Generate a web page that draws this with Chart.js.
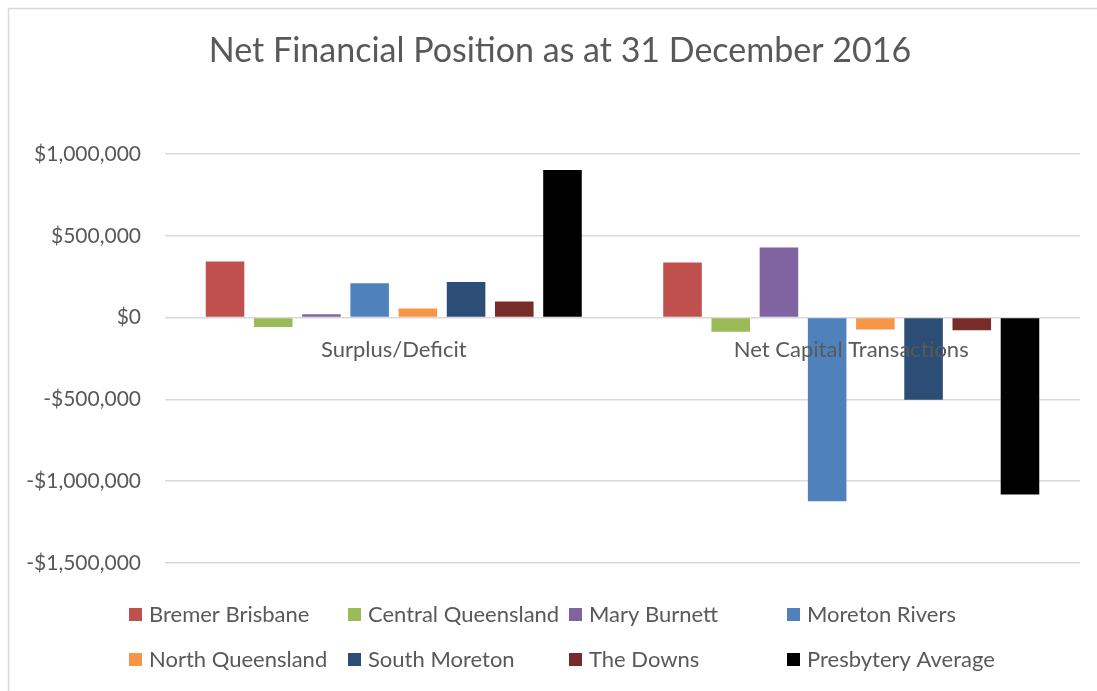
<!DOCTYPE html>
<html>
<head>
<meta charset="utf-8">
<script src="https://cdn.jsdelivr.net/npm/chart.js@4.4.0/dist/chart.umd.min.js"></script>
<style>
  html, body { margin: 0; padding: 0; background: #ffffff; }
  #wrap { position: relative; width: 1097px; height: 691px; }
</style>
</head>
<body>
<div id="wrap"><canvas id="c" width="1097" height="691"></canvas></div>
<script>
const titleText = 'Net Financial Position as at 31 December 2016';
const categories = ['Surplus/Deficit', 'Net Capital Transactions'];
const seriesNames = ['Bremer Brisbane', 'Central Queensland', 'Mary Burnett', 'Moreton Rivers',
                     'North Queensland', 'South Moreton', 'The Downs', 'Presbytery Average'];
const seriesColors = ['#C0504D', '#9BBB59', '#8064A2', '#4F81BD', '#F79646', '#2C4D75', '#772C2A', '#000000'];
const bremerBrisbane    = [343000, 337000];
const centralQueensland = [-57000, -86000];
const maryBurnett       = [21000, 428000];
const moretonRivers     = [210000, -1122000];
const northQueensland   = [55000, -73000];
const southMoreton      = [218000, -502000];
const theDowns          = [98000, -77000];
const presbyteryAverage = [902000, -1081000];
const seriesValues = [bremerBrisbane, centralQueensland, maryBurnett, moretonRivers,
                      northQueensland, southMoreton, theDowns, presbyteryAverage];
const yMin = -1500000, yMax = 1000000, yStep = 500000;

const FONT = 'Lato, "Open Sans", sans-serif';
const TEXT = '#595959';

function fmtMoney(v) {
  const abs = Math.abs(v).toLocaleString('en-US');
  return (v < 0 ? '-$' : '$') + abs;
}

const decor = {
  id: 'decor',
  beforeDraw(chart) {
    const ctx = chart.ctx;
    ctx.save();
    ctx.fillStyle = '#ffffff';
    ctx.fillRect(0, 0, chart.width, chart.height);
    ctx.strokeStyle = '#d9d9d9';
    ctx.lineWidth = 1.5;
    ctx.beginPath();
    ctx.moveTo(8.5, chart.height);
    ctx.lineTo(8.5, 8.5);
    ctx.lineTo(chart.width, 8.5);
    ctx.stroke();
    // title
    ctx.fillStyle = TEXT;
    ctx.font = '400 34px ' + FONT;
    ctx.textAlign = 'center';
    ctx.textBaseline = 'middle';
    ctx.fillText(titleText, 560, 51);
    ctx.restore();
  },
  afterDraw(chart) {
    const ctx = chart.ctx;
    ctx.save();
    const colX = [129, 348, 569, 787];
    const rowY = [615, 660];
    ctx.font = '400 22px ' + FONT;
    ctx.textBaseline = 'middle';
    ctx.textAlign = 'left';
    chart.data.datasets.forEach((ds, i) => {
      const x = colX[i % 4], y = rowY[Math.floor(i / 4)];
      ctx.fillStyle = ds.backgroundColor;
      ctx.fillRect(x, y - 7, 13, 13);
      ctx.fillStyle = TEXT;
      ctx.fillText(ds.label, x + 20, y);
    });
    ctx.restore();
  }
};

new Chart(document.getElementById('c'), {
  type: 'bar',
  data: {
    labels: categories,
    datasets: seriesNames.map((name, i) => ({
      label: name,
      data: seriesValues[i],
      backgroundColor: seriesColors[i],
      borderWidth: 0,
      categoryPercentage: 0.843,
      barPercentage: 0.8
    }))
  },
  options: {
    responsive: false,
    animation: false,
    devicePixelRatio: 1,
    layout: { padding: { left: 0, right: 17, top: 154, bottom: 128 } },
    plugins: {
      legend: { display: false },
      title: { display: false },
      tooltip: { enabled: false }
    },
    scales: {
      x: {
        position: { y: 0 },
        grid: { display: false, drawTicks: false },
        border: { display: false },
        ticks: { z: 1, color: TEXT, font: { family: FONT, size: 22 }, padding: 19, maxRotation: 0 },
        afterFit(scale) { scale.height = 0; }
      },
      y: {
        min: yMin, max: yMax,
        grid: { color: '#d9d9d9', lineWidth: 1.5, drawTicks: false },
        border: { display: false },
        ticks: {
          stepSize: yStep,
          color: TEXT,
          font: { family: FONT, size: 21 },
          padding: 24,
          callback: (v) => fmtMoney(v)
        },
        afterFit(scale) { scale.width = 165; }
      }
    }
  },
  plugins: [decor]
});
</script>
</body>
</html>
